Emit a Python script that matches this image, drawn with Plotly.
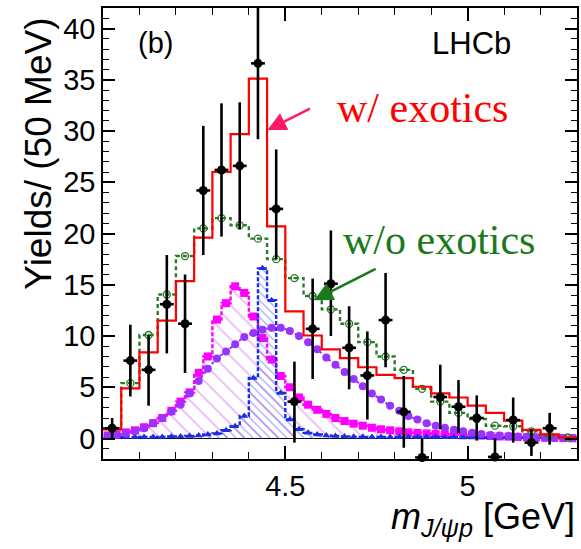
import plotly.graph_objects as go

# ---------------- data ----------------
# 50 MeV bins (lower edges), data and fit histograms
bin50_lo = [4.00, 4.05, 4.10, 4.15, 4.20, 4.25, 4.30, 4.35, 4.40, 4.45,
            4.50, 4.55, 4.60, 4.65, 4.70, 4.75, 4.80, 4.85, 4.90, 4.95,
            5.00, 5.05, 5.10, 5.15, 5.20, 5.25]
BW50 = 0.05

data_x = [4.025, 4.075, 4.125, 4.175, 4.225, 4.275, 4.325, 4.375, 4.425, 4.475,
          4.525, 4.575, 4.625, 4.675, 4.725, 4.775, 4.825, 4.875, 4.925, 4.975,
          5.025, 5.075, 5.125, 5.175, 5.225]
data_y = [1.0, 7.6, 6.7, 13.1, 11.2, 24.2, 26.2, 26.6, 36.6, 22.4,
          3.6, 10.7, 15.1, 8.85, 6.15, 11.55, 2.6, -1.85, 4.05, 3.1,
          2.0, -1.8, 1.8, -0.4, 1.0]
data_err_hi = [1.0, 3.5, 3.4, 4.8, 4.8, 6.3, 6.5, 6.2, 7.4, 5.8,
               3.9, 4.9, 5.2, 4.05, 4.3, 4.6, 3.5, 1.8, 3.15, 2.6,
               2.2, 1.8, 2.2, 1.3, 1.5]
data_err_lo = [1.0, 3.5, 3.5, 4.8, 4.8, 6.3, 6.5, 6.2, 7.4, 4.9,
               4.0, 4.9, 5.1, 4.05, 4.3, 4.6, 3.5, 1.8, 3.15, 2.6,
               2.2, 1.8, 2.2, 1.3, 1.6]

with_exotics = [0.9, 4.9, 8.4, 11.5, 15.35, 19.6, 26.0, 29.7, 35.1, 20.7,
                12.4, 10.05, 8.7, 7.85, 6.95, 6.2, 5.9, 5.05, 4.4, 4.0,
                3.2, 2.5, 1.75, 0.85, 0.4, 0.1]
without_exotics = [1.0, 5.4, 10.1, 14.05, 17.8, 20.5, 21.5, 20.8, 19.5, 17.5,
                   15.65, 13.9, 12.6, 11.2, 9.4, 8.0, 6.7, 4.85, 3.6, 2.5,
                   1.9, 1.25, 1.2, 0.7, 0.3, 0.1]

# 25 MeV fine bins for components
BW25 = 0.025
bin25_lo = [round(4.0 + BW25 * k, 4) for k in range(52)]

comp_magenta = [0.3, 0.4, 0.6, 0.8, 1.1, 1.5, 2.0, 2.7, 3.6, 4.5,
                6.4, 8.0, 11.6, 13.2, 14.85, 14.2, 11.9, 9.8, 7.7, 6.1,
                5.0, 4.0, 3.3, 2.8, 2.4, 2.0, 1.7, 1.45, 1.25, 1.05,
                0.9, 0.8, 0.7, 0.6, 0.55, 0.5, 0.45, 0.42, 0.4, 0.38,
                0.35, 0.3, 0.25, 0.2, 0.18, 0.15, 0.12, 0.1, 0.08, 0.06,
                0.04, 0.02]
comp_blue = [0.15, 0.15, 0.15, 0.15, 0.15, 0.15, 0.15, 0.2, 0.2, 0.25,
             0.3, 0.4, 0.5, 0.8, 1.2, 2.2, 5.9, 16.6, 13.5, 4.45,
             1.85, 0.9, 0.55, 0.4, 0.3, 0.25, 0.2, 0.18, 0.16, 0.15,
             0.15, 0.15, 0.15, 0.15, 0.15, 0.15, 0.15, 0.12, 0.12, 0.1,
             0.1, 0.1, 0.1, 0.1, 0.08, 0.08, 0.08, 0.06, 0.06, 0.05,
             0.05, 0.04]
comp_purple = [0.25, 0.35, 0.5, 0.7, 1.0, 1.5, 2.0, 2.6, 3.3, 4.4,
               5.6, 6.8, 7.8, 8.5, 9.2, 9.9, 10.3, 10.6, 10.8, 10.8,
               10.5, 10.0, 9.4, 8.7, 7.9, 7.2, 6.5, 5.8, 5.1, 4.4,
               3.8, 3.2, 2.7, 2.2, 1.85, 1.5, 1.25, 1.05, 0.85, 0.7,
               0.55, 0.45, 0.35, 0.3, 0.25, 0.2, 0.15, 0.1, 0.08, 0.06,
               0.05, 0.04]

y_ticks = [0, 5, 10, 15, 20, 25, 30, 35, 40]
x_ticks = [4.5, 5.0]
x_ticklabels = ["4.5", "5"]

# ---------------- derived ----------------
edges50 = bin50_lo + [round(bin50_lo[-1] + BW50, 4)]
cent25 = [round(b + BW25 / 2, 4) for b in bin25_lo]

RED = "#ff0000"
GREEN = "#2a7a2a"
MAGENTA = "#ff00ff"
BLUE = "#1a2ee6"
PURPLE = "#9933ff"

fig = go.Figure()

# magenta component (hatched)
fig.add_trace(go.Scatter(
    x=cent25, y=comp_magenta, mode="lines+markers", line_shape="hvh",
    line=dict(color=MAGENTA, width=2.4, dash="4px,2px"),
    marker=dict(symbol="square", size=8, color=MAGENTA),
    fill="tozeroy", fillcolor="rgba(0,0,0,0)",
    fillpattern=dict(shape="\\", fgcolor="#cc55e6", bgcolor="rgba(0,0,0,0)",
                     size=12, solidity=0.12),
    hoverinfo="skip"))

# blue component (hatched)
fig.add_trace(go.Scatter(
    x=cent25, y=comp_blue, mode="lines+markers", line_shape="hvh",
    line=dict(color=BLUE, width=2.4, dash="4px,2px"),
    marker=dict(symbol="triangle-up", size=7, color=BLUE),
    fill="tozeroy", fillcolor="rgba(0,0,0,0)",
    fillpattern=dict(shape="\\", fgcolor="#4d5fee", bgcolor="rgba(0,0,0,0)",
                     size=6, solidity=0.22),
    hoverinfo="skip"))

# purple component
fig.add_trace(go.Scatter(
    x=cent25, y=comp_purple, mode="lines+markers", line_shape="spline",
    line=dict(color=PURPLE, width=2, dash="dot"),
    marker=dict(symbol="circle", size=8, color=PURPLE),
    hoverinfo="skip"))

# w/o exotics (green dashed histogram)
fig.add_trace(go.Scatter(
    x=edges50, y=without_exotics + [without_exotics[-1]], mode="lines",
    line_shape="hv", line=dict(color=GREEN, width=2.4, dash="4px,3px"),
    hoverinfo="skip"))
fig.add_trace(go.Scatter(
    x=[round(b + BW50 / 2, 4) for b in bin50_lo], y=without_exotics,
    mode="markers",
    marker=dict(symbol="circle-open-dot", size=7, color=GREEN,
                line=dict(width=1.3, color=GREEN)),
    hoverinfo="skip"))

# w/ exotics (red histogram)
fig.add_trace(go.Scatter(
    x=edges50, y=with_exotics + [with_exotics[-1]], mode="lines",
    line_shape="hv", line=dict(color=RED, width=2.2),
    hoverinfo="skip"))

# data
fig.add_trace(go.Scatter(
    x=data_x, y=data_y, mode="markers",
    marker=dict(symbol="circle", size=9, color="black"),
    error_y=dict(type="data", symmetric=False, array=data_err_hi,
                 arrayminus=data_err_lo, thickness=2.6, width=0, color="black"),
    error_x=dict(type="constant", value=0.019, thickness=2.6, width=0,
                 color="black"),
    cliponaxis=False, hoverinfo="skip"))

axis_font = dict(family="Liberation Sans, Arial, sans-serif", size=29, color="black")

fig.update_layout(
    width=581, height=549, autosize=False,
    margin=dict(l=103, r=2, t=8, b=90),
    plot_bgcolor="white", paper_bgcolor="white",
    showlegend=False,
    xaxis=dict(range=[4.0, 5.3], showline=True, mirror="allticks",
               linecolor="black", linewidth=1.5, ticks="inside", ticklen=13,
               tickwidth=1.5, tickcolor="black", tickmode="array",
               tickvals=x_ticks, ticktext=x_ticklabels, tickfont=axis_font,
               showgrid=False, zeroline=False,
               minor=dict(tickmode="array",
                          tickvals=[4.1, 4.2, 4.3, 4.4, 4.6, 4.7, 4.8, 4.9, 5.1, 5.2],
                          ticks="inside", ticklen=7, tickwidth=1.3,
                          tickcolor="black", showgrid=False)),
    yaxis=dict(range=[-2, 42], showline=True, mirror="allticks",
               linecolor="black", linewidth=1.5, ticks="inside", ticklen=12,
               tickwidth=1.5, tickcolor="black", tickmode="array",
               tickvals=y_ticks, ticktext=[str(v) for v in y_ticks],
               tickfont=axis_font, showgrid=False,
               zeroline=True, zerolinecolor="black", zerolinewidth=1.2,
               minor=dict(tickmode="array",
                          tickvals=[v for v in range(-1, 42) if v % 5 != 0],
                          ticks="inside", ticklen=6, tickwidth=1.2,
                          tickcolor="black", showgrid=False)),
)

sans = "Liberation Sans, Arial, sans-serif"
serif = "Liberation Serif, Times New Roman, serif"

fig.add_annotation(xref="paper", yref="paper", x=-0.136, y=0.676,
                   text="Yields/ (50 MeV)", textangle=-90, showarrow=False,
                   font=dict(family=sans, size=37, color="black"),
                   xanchor="center", yanchor="middle")
fig.add_annotation(xref="paper", yref="paper", x=1.0, y=-0.133,
                   text="<i>m</i><sub><i>J/ψp</i></sub> [GeV]", showarrow=False,
                   font=dict(family=sans, size=36, color="black"),
                   xanchor="right", yanchor="middle")
fig.add_annotation(xref="paper", yref="paper", x=0.111, y=0.922,
                   text="(b)", showarrow=False,
                   font=dict(family=sans, size=29, color="black"),
                   xanchor="center", yanchor="middle")
fig.add_annotation(xref="paper", yref="paper", x=0.777, y=0.922,
                   text="LHCb", showarrow=False,
                   font=dict(family=sans, size=31, color="black"),
                   xanchor="center", yanchor="middle")
fig.add_annotation(xref="paper", yref="paper", x=0.674, y=0.778,
                   text="w/ exotics", showarrow=False,
                   font=dict(family=serif, size=42, color=RED),
                   xanchor="center", yanchor="middle")
fig.add_annotation(xref="paper", yref="paper", x=0.709, y=0.486,
                   text="w/o exotics", showarrow=False,
                   font=dict(family=serif, size=42, color="#1a7a1a"),
                   xanchor="center", yanchor="middle")

# arrows pointing at the two fit curves
fig.add_annotation(x=4.451, y=30.1, xref="x", yref="y", text="",
                   showarrow=True, ax=44, ay=-22, arrowhead=2, arrowsize=1.5,
                   arrowwidth=2.5, arrowcolor="#ff1a66")
fig.add_annotation(x=4.579, y=13.5, xref="x", yref="y", text="",
                   showarrow=True, ax=63, ay=-32, arrowhead=2, arrowsize=1.5,
                   arrowwidth=2.5, arrowcolor="#1a7a1a")

fig.write_html("out.html")
